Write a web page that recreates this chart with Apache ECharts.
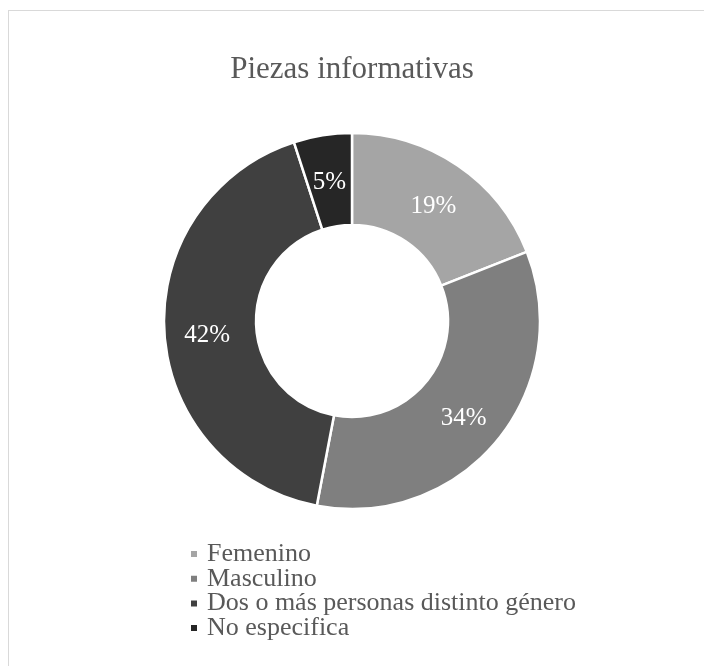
<!DOCTYPE html>
<html>
<head>
<meta charset="utf-8">
<script src="https://cdn.jsdelivr.net/npm/echarts@6/dist/echarts.min.js"></script>
<style>
  html, body { margin: 0; padding: 0; background: #fff; }
  #frame { position: absolute; left: 8px; top: 10px; width: 710px; height: 670px;
           border-top: 1px solid #d9d9d9; border-left: 1px solid #d9d9d9; }
  #chart { position: absolute; left: 0; top: 0; width: 704px; height: 666px; }
</style>
</head>
<body>
<div id="frame"></div>
<div id="chart"></div>
<script>
// chart data
const categories = ['Femenino', 'Masculino', 'Dos o más personas distinto género', 'No especifica'];
const values = [19, 34, 42, 5];
const colors = ['#a5a5a5', '#7f7f7f', '#404040', '#262626'];

const myChart = echarts.init(document.getElementById('chart'), null, { renderer: 'canvas' });

let pieData = [];
for (let i = 0; i < categories.length; i++) {
  pieData.push({ name: categories[i], value: values[i], itemStyle: { color: colors[i] } });
}

const serif = '"Liberation Serif", "DejaVu Serif", serif';

/* one legend per row, so the rows sit as tight as in the reference */
let legends = [];
for (let i = 0; i < categories.length; i++) {
  legends.push({
    orient: 'vertical',
    left: 189,
    top: 541 + i * 24.7,
    padding: 0,
    itemWidth: 8,
    itemHeight: 8,
    icon: 'rect',
    textStyle: { fontFamily: serif, fontSize: 26, color: '#595959', padding: [0, 0, 0, 4] },
    data: [categories[i]]
  });
}

let option = {
  animation: false,
  title: {
    text: 'Piezas informativas',
    left: 'center',
    top: 49,
    textStyle: { fontFamily: serif, fontSize: 31, fontWeight: 'normal', color: '#595959' }
  },
  legend: legends,
  series: [
    {
      type: 'pie',
      center: [352, 321],
      radius: [96, 188],
      startAngle: 90,
      clockwise: true,
      itemStyle: { borderColor: '#ffffff', borderWidth: 2.5 },
      label: {
        show: true,
        position: 'inside',
        formatter: '{d}%',
        fontFamily: serif,
        fontSize: 25,
        color: '#ffffff',
        offset: [0, 5]
      },
      labelLine: { show: false },
      emphasis: { disabled: true },
      data: pieData
    }
  ]
};

if (option && typeof option === 'object') {
  myChart.setOption(option, true);
}
</script>
</body>
</html>
